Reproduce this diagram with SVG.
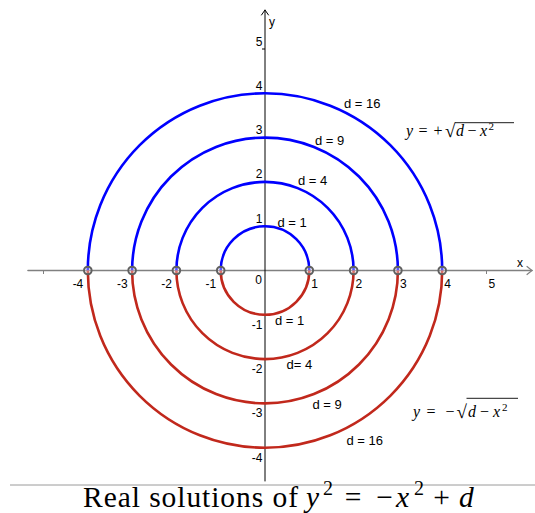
<svg xmlns="http://www.w3.org/2000/svg" width="535" height="513" viewBox="0 0 535 513">
<style>
.ax{fill:none;stroke-linecap:round}
.tk{font-family:"Liberation Sans",Arial,sans-serif;font-size:12px;fill:#000}
.dl{font-family:"Liberation Sans",Arial,sans-serif;font-size:13px;fill:#000}
.up{fill:none;stroke:#0000ff;stroke-width:2.6}
.lo{fill:none;stroke:#c1281c;stroke-width:2.6}
.pt{fill:#ffffff;fill-opacity:0.35;stroke:#606060;stroke-width:2}
.ser{font-family:"Liberation Serif","Times New Roman",serif;fill:#000}
.it{font-style:italic}
</style>
<rect width="535" height="513" fill="#ffffff"/>
<g id="axes">
  <line class="ax" x1="28" y1="270.5" x2="532" y2="270.5" stroke="#808080" stroke-width="1.6"/>
  <polyline class="ax" points="527,266.5 532,270.5 527,274.5" stroke="#808080" stroke-width="1.2"/>
  <line class="ax" x1="265" y1="10" x2="265" y2="481" stroke="#000" stroke-width="1"/>
  <polyline class="ax" points="261.5,15 265,10 268.5,15" stroke="#000" stroke-width="1"/>
  <g stroke="#808080" stroke-width="1">
    <line x1="43.5" y1="270.5" x2="43.5" y2="274"/>
    <line x1="87.8" y1="270.5" x2="87.8" y2="274"/>
    <line x1="132.1" y1="270.5" x2="132.1" y2="274"/>
    <line x1="176.4" y1="270.5" x2="176.4" y2="274"/>
    <line x1="220.7" y1="270.5" x2="220.7" y2="274"/>
    <line x1="309.3" y1="270.5" x2="309.3" y2="274"/>
    <line x1="353.6" y1="270.5" x2="353.6" y2="274"/>
    <line x1="397.9" y1="270.5" x2="397.9" y2="274"/>
    <line x1="442.2" y1="270.5" x2="442.2" y2="274"/>
    <line x1="486.5" y1="270.5" x2="486.5" y2="274"/>
  </g>
  <g stroke="#000" stroke-width="1">
    <line x1="262" y1="49" x2="265" y2="49"/>
    <line x1="262" y1="93.3" x2="265" y2="93.3"/>
    <line x1="262" y1="137.6" x2="265" y2="137.6"/>
    <line x1="262" y1="181.9" x2="265" y2="181.9"/>
    <line x1="262" y1="226.2" x2="265" y2="226.2"/>
    <line x1="262" y1="314.8" x2="265" y2="314.8"/>
    <line x1="262" y1="359.1" x2="265" y2="359.1"/>
    <line x1="262" y1="403.4" x2="265" y2="403.4"/>
    <line x1="262" y1="447.7" x2="265" y2="447.7"/>
  </g>
  <text class="tk" x="517" y="267">x</text>
  <text class="tk" x="269" y="26">y</text>
  <g class="tk" text-anchor="end">
    <text x="83.3" y="287.5">-4</text>
    <text x="127.6" y="287.5">-3</text>
    <text x="171.9" y="287.5">-2</text>
    <text x="216.2" y="287.5">-1</text>
    <text x="262" y="283.5">0</text>
    <text x="262.5" y="45.5">5</text>
    <text x="262.5" y="89.8">4</text>
    <text x="262.5" y="134.1">3</text>
    <text x="262.5" y="178.4">2</text>
    <text x="262.5" y="222.7">1</text>
    <text x="262.5" y="328.8">-1</text>
    <text x="262.5" y="373.1">-2</text>
    <text x="262.5" y="417.4">-3</text>
    <text x="262.5" y="461.7">-4</text>
  </g>
  <g class="tk">
    <text x="311.3" y="287.5">1</text>
    <text x="355.6" y="287.5">2</text>
    <text x="399.9" y="287.5">3</text>
    <text x="444.2" y="287.5">4</text>
    <text x="488.5" y="287.5">5</text>
  </g>
</g>
<g id="connectors">
  <path id="up16" class="up" d="M87.8 270.5 A177.2 177.2 0 0 1 442.2 270.5"/>
  <path id="up9" class="up" d="M132.1 270.5 A132.9 132.9 0 0 1 397.9 270.5"/>
  <path id="up4" class="up" d="M176.4 270.5 A88.6 88.6 0 0 1 353.6 270.5"/>
  <path id="up1" class="up" d="M220.7 270.5 A44.3 44.3 0 0 1 309.3 270.5"/>
  <path id="lo16" class="lo" d="M87.8 270.5 A177.2 177.2 0 0 0 442.2 270.5"/>
  <path id="lo9" class="lo" d="M132.1 270.5 A132.9 132.9 0 0 0 397.9 270.5"/>
  <path id="lo4" class="lo" d="M176.4 270.5 A88.6 88.6 0 0 0 353.6 270.5"/>
  <path id="lo1" class="lo" d="M220.7 270.5 A44.3 44.3 0 0 0 309.3 270.5"/>
</g>
<g id="points">
  <circle class="pt" cx="87.8" cy="270.5" r="3.8"/>
  <circle class="pt" cx="132.1" cy="270.5" r="3.8"/>
  <circle class="pt" cx="176.4" cy="270.5" r="3.8"/>
  <circle class="pt" cx="220.7" cy="270.5" r="3.8"/>
  <circle class="pt" cx="309.3" cy="270.5" r="3.8"/>
  <circle class="pt" cx="353.6" cy="270.5" r="3.8"/>
  <circle class="pt" cx="397.9" cy="270.5" r="3.8"/>
  <circle class="pt" cx="442.2" cy="270.5" r="3.8"/>
</g>
<g id="labels" class="dl">
  <text x="344" y="108">d = 16</text>
  <text x="315" y="144.5">d = 9</text>
  <text x="298" y="185">d = 4</text>
  <text x="277.5" y="226.5">d = 1</text>
  <text x="275" y="325">d = 1</text>
  <text x="286.5" y="368.5">d= 4</text>
  <text x="312.5" y="409">d = 9</text>
  <text x="346.5" y="445">d = 16</text>
</g>
<g id="formula-plus" class="ser" font-size="16">
  <text x="406" y="136" class="it">y</text>
  <text x="423" y="136" text-anchor="middle">=</text>
  <text x="438" y="136" text-anchor="middle">+</text>
  <text x="445" y="137" font-size="19">√</text>
  <text x="456" y="136" class="it">d</text>
  <text x="472" y="136" text-anchor="middle">−</text>
  <text x="480" y="136" class="it">x</text>
  <text x="488.5" y="129.5" font-size="11">2</text>
  <line x1="455" y1="122.7" x2="514" y2="122.7" stroke="#000" stroke-width="0.9"/>
</g>
<g id="formula-minus" class="ser" font-size="16">
  <text x="413" y="417" class="it">y</text>
  <text x="431" y="417" text-anchor="middle">=</text>
  <text x="450" y="417" text-anchor="middle">−</text>
  <text x="456.5" y="418" font-size="19">√</text>
  <text x="468" y="417" class="it">d</text>
  <text x="484.5" y="417" text-anchor="middle">−</text>
  <text x="493" y="417" class="it">x</text>
  <text x="502" y="410.5" font-size="11">2</text>
  <line x1="466.5" y1="398.3" x2="518" y2="398.3" stroke="#000" stroke-width="0.9"/>
</g>
<g id="title">
  <line x1="10" y1="485" x2="535" y2="485" stroke="#9a9a9a" stroke-width="1"/>
  <g class="ser" font-size="29.5">
    <text x="83" y="507" textLength="215" lengthAdjust="spacing">Real solutions of</text>
    <text x="306" y="507" class="it">y</text>
    <text x="323" y="495" font-size="20">2</text>
    <text x="353" y="507" text-anchor="middle">=</text>
    <text x="384.5" y="507" text-anchor="middle">−</text>
    <text x="396" y="507" class="it">x</text>
    <text x="414" y="495" font-size="20">2</text>
    <text x="441.5" y="507" text-anchor="middle">+</text>
    <text x="459" y="507" class="it">d</text>
  </g>
</g>
</svg>
